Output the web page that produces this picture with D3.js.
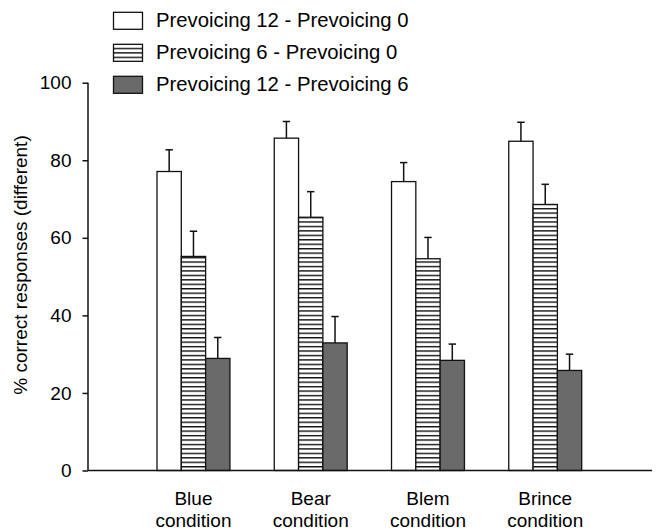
<!DOCTYPE html>
<html>
<head>
<meta charset="utf-8">
<script src="https://cdn.jsdelivr.net/npm/d3@7"></script>
<style>
  html, body { margin: 0; padding: 0; background: #fff; }
  svg { display: block; }
  text { font-family: "Liberation Sans", Arial, sans-serif; fill: #000; }
</style>
</head>
<body>
<svg id="chart" width="657" height="531"></svg>
<script>
// ---- data ----
const categories = ["Blue condition", "Bear condition", "Blem condition", "Brince condition"];
const seriesNames = ["Prevoicing 12 - Prevoicing 0", "Prevoicing 6 - Prevoicing 0", "Prevoicing 12 - Prevoicing 6"];
const p12p0 = [77.1, 85.7, 74.5, 84.9];
const p12p0Err = [5.6, 4.3, 4.9, 4.9];
const p6p0 = [55.2, 65.3, 54.6, 68.6];
const p6p0Err = [6.5, 6.6, 5.5, 5.2];
const p12p6 = [28.9, 32.9, 28.4, 25.8];
const p12p6Err = [5.4, 6.8, 4.2, 4.2];
const yTicks = [0, 20, 40, 60, 80, 100];
const yTitle = "% correct responses (different)";

const seriesValues = [p12p0, p6p0, p12p6];
const seriesErrors = [p12p0Err, p6p0Err, p12p6Err];

// ---- layout ----
const svg = d3.select("#chart");
const axisX = 88, axisY = 470.5, axisTop = 82.7, axisRight = 652;

const y = d3.scaleLinear().domain([0, 100]).range([axisY, axisTop]);
const x = d3.scaleBand().domain(categories).range([157, 581.7]).paddingInner(0.378).paddingOuter(0);
const xs = d3.scaleBand().domain(seriesNames).range([0, x.bandwidth()]).padding(0);

// hatch pattern
const defs = svg.append("defs");
const pat = defs.append("pattern").attr("id", "hatch")
  .attr("patternUnits", "userSpaceOnUse").attr("width", 8).attr("height", 4.45)
  .attr("y", axisY);
pat.append("rect").attr("width", 8).attr("height", 4.45).attr("fill", "#fff");
pat.append("rect").attr("y", 0).attr("width", 8).attr("height", 1.4).attr("fill", "#111");

const fills = ["#ffffff", "url(#hatch)", "#6a6a6a"];

// bars
const rows = [];
categories.forEach((c, i) => seriesNames.forEach((s, j) => rows.push({c, s, j, v: seriesValues[j][i], e: seriesErrors[j][i]})));

const g = svg.append("g");
g.selectAll(".err").data(rows).join("g").attr("class", "err").each(function(d) {
  const cx = x(d.c) + xs(d.s) + xs.bandwidth() / 2;
  const sel = d3.select(this);
  sel.append("line").attr("x1", cx).attr("x2", cx).attr("y1", y(d.v)).attr("y2", y(d.v + d.e))
    .attr("stroke", "#111").attr("stroke-width", 1.5);
  sel.append("line").attr("x1", cx - 3.7).attr("x2", cx + 3.7).attr("y1", y(d.v + d.e)).attr("y2", y(d.v + d.e))
    .attr("stroke", "#111").attr("stroke-width", 1.5);
});
g.selectAll(".bar").data(rows).join("rect").attr("class", "bar")
  .attr("x", d => x(d.c) + xs(d.s))
  .attr("y", d => y(d.v))
  .attr("width", xs.bandwidth())
  .attr("height", d => axisY - y(d.v))
  .attr("fill", d => fills[d.j])
  .attr("stroke", "#111").attr("stroke-width", 1.3);

// y axis
const yAxis = d3.axisLeft(y).tickValues(yTicks).tickSize(5.5).tickPadding(11).tickFormat(d3.format("d"));
const ya = svg.append("g").attr("transform", `translate(${axisX},0)`).call(yAxis);
ya.select(".domain").remove();
ya.append("line").attr("x1", 0).attr("x2", 0).attr("y1", axisTop).attr("y2", axisY).attr("stroke", "#111").attr("stroke-width", 1.5);
ya.selectAll(".tick line").attr("stroke", "#111").attr("stroke-width", 1.5);
ya.selectAll(".tick text").style("font-size", "19px").attr("fill", "#000").style("font-family", '"Liberation Sans", Arial, sans-serif');

// x axis line
svg.append("line").attr("x1", axisX).attr("x2", axisRight).attr("y1", axisY).attr("y2", axisY)
  .attr("stroke", "#111").attr("stroke-width", 1.6);

// x labels (two separate lines)
categories.forEach(c => {
  const parts = c.split(" ");
  const cx = x(c) + x.bandwidth() / 2;
  parts.forEach((p, k) => svg.append("text").attr("x", cx).attr("y", k === 0 ? 504.5 : 526.5)
    .attr("text-anchor", "middle").style("font-size", "19px").text(p));
});

// y title
svg.append("text").attr("transform", "translate(27,265) rotate(-90)")
  .attr("text-anchor", "middle").style("font-size", "19px").text(yTitle);

// legend
const legend = svg.append("g");
seriesNames.forEach((s, j) => {
  const top = 12.3 + j * 32;
  legend.append("rect").attr("x", 113.5).attr("y", top).attr("width", 29).attr("height", 17)
    .attr("fill", fills[j]).attr("stroke", "#111").attr("stroke-width", 1.3);
  legend.append("text").attr("x", 156).attr("y", top + 14.6).style("font-size", "20.3px").text(s);
});
</script>
</body>
</html>
